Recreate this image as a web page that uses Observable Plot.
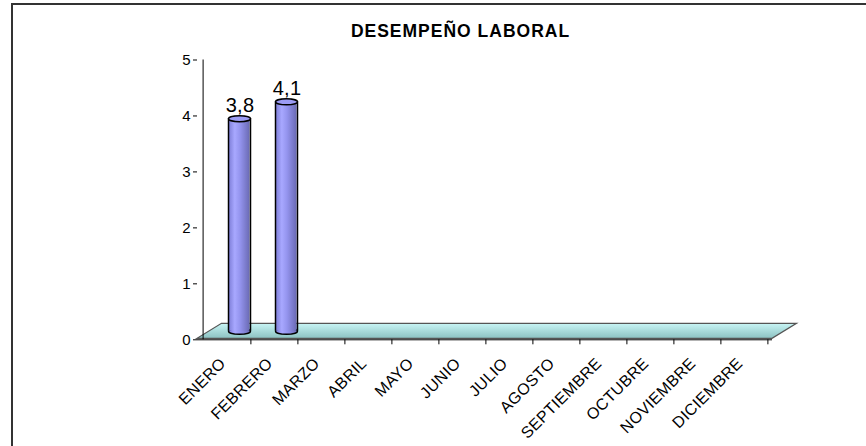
<!DOCTYPE html>
<html><head><meta charset="utf-8">
<script src="https://cdn.jsdelivr.net/npm/d3@7"></script>
<script src="https://cdn.jsdelivr.net/npm/@observablehq/plot@0.6"></script>
<style>
html,body{margin:0;padding:0;background:#fff;}
#wrap{position:relative;width:866px;height:446px;overflow:hidden;font-family:"Liberation Sans",Arial,sans-serif;}
#chart{position:absolute;left:0;top:0;}
#border{position:absolute;left:11px;top:3px;width:900px;height:500px;border-left:2px solid #333;border-top:2px solid #333;}
#title{position:absolute;left:0;width:921px;top:22px;text-align:center;font-weight:bold;font-size:17.5px;line-height:18px;letter-spacing:1px;color:#000;}
</style></head><body>
<div id="wrap"><div id="chart"></div><div id="border"></div><div id="title"></div></div>
<script>
const title = "DESEMPEÑO LABORAL";
const months = ["ENERO","FEBRERO","MARZO","ABRIL","MAYO","JUNIO","JULIO","AGOSTO","SEPTIEMBRE","OCTUBRE","NOVIEMBRE","DICIEMBRE"];
const values = [3.8, 4.1];
const yTicks = [0, 1, 2, 3, 4, 5];

const data = values.map((v, i) => ({month: months[i], value: v}));
document.getElementById("title").textContent = title;

const RX = 11, RY = 3, K = 0.5523;
const ellipse = {draw(ctx) {
  ctx.moveTo(RX, 0);
  ctx.bezierCurveTo(RX, RY*K, RX*K, RY, 0, RY);
  ctx.bezierCurveTo(-RX*K, RY, -RX, RY*K, -RX, 0);
  ctx.bezierCurveTo(-RX, -RY*K, -RX*K, -RY, 0, -RY);
  ctx.bezierCurveTo(RX*K, -RY, RX, -RY*K, RX, 0);
  ctx.closePath();
}};
const CDX = 12.5, CDY = -8.5, HALF = 23.9;

const chart = Plot.plot({
  width: 866, height: 446,
  marginLeft: 197, marginRight: 94, marginTop: 59.5, marginBottom: 106.7,
  style: {fontFamily: '"Liberation Sans", Arial, sans-serif', fontSize: "15px", color: "#000", background: "transparent", overflow: "visible"},
  x: {domain: months, padding: 0, axis: null},
  y: {domain: [0, 5], ticks: yTicks, tickSize: 4, tickPadding: 3, label: null, tickFormat: d => String(d)},
  marks: [
    Plot.ruleY([0], {stroke: "#000", strokeWidth: 1}),
    Plot.ruleX([months[0]], {x: d => d, y1: () => 0, y2: () => 5, dx: -HALF, stroke: "#000"}),
    Plot.ruleX(months, {x: d => d, y1: () => 0, y2: () => 0, dx: HALF, insetBottom: -5, stroke: "#000"}),
    Plot.dot(data, {x: "month", y: () => 0, dx: CDX, dy: CDY, symbol: ellipse, fill: "url(#cylGrad)", stroke: "#000", strokeWidth: 1.5}),
    Plot.barY(data, {x: "month", y: "value", insetLeft: HALF + CDX - RX, insetRight: 2*HALF - (HALF + CDX + RX), dy: CDY, fill: "url(#cylGrad)"}),
    Plot.ruleX(data, {x: "month", y1: () => 0, y2: "value", dx: CDX - RX, dy: CDY, stroke: "#000", strokeWidth: 1.5}),
    Plot.ruleX(data, {x: "month", y1: () => 0, y2: "value", dx: CDX + RX, dy: CDY, stroke: "#000", strokeWidth: 1.5}),
    Plot.dot(data, {x: "month", y: "value", dx: CDX, dy: CDY, symbol: ellipse, fill: "#9c9cf4", stroke: "#000", strokeWidth: 1.5}),
    Plot.text(data, {x: "month", y: "value", text: d => d.value.toFixed(1).replace(".", ","), dx: 13, dy: -22, fontSize: 20}),
    Plot.text(months, {x: d => d, y: () => 0, text: d => d, rotate: -45, textAnchor: "end", dx: -4, dy: 21, fontSize: 16})
  ]
});
document.getElementById("chart").appendChild(chart);

const svg = d3.select(chart);
const tickLabels = yTicks.map(String);
svg.selectAll("text")
  .filter(function() { return tickLabels.includes(this.textContent); })
  .attr("font-size", 15).style("font-size", "15px");
svg.selectAll('g[aria-label="text"]').style("letter-spacing", "0.3px");
const defs = svg.insert("defs", ":first-child");
const cg = defs.append("linearGradient").attr("id", "cylGrad").attr("x1", 0).attr("x2", 1).attr("y1", 0).attr("y2", 0);
[[0, "#7c7cd6"], [0.3, "#a8a8ff"], [0.55, "#9494ee"], [1, "#6a6ab4"]].forEach(([o, c]) => cg.append("stop").attr("offset", o).attr("stop-color", c));
const fg = defs.append("linearGradient").attr("id", "floorGrad").attr("x1", 0).attr("x2", 0).attr("y1", 0).attr("y2", 1);
[[0, "#c8f5f5"], [1, "#8cc2c2"]].forEach(([o, c]) => fg.append("stop").attr("offset", o).attr("stop-color", c));

const sx = chart.scale("x"), sy = chart.scale("y");
const [x0, x1] = sx.range;
const y0 = d3.scaleLinear(sy.domain, sy.range)(0) - 1;
const DX = 24.5, DY = -15;
const floorPts = [[x0, y0], [x1, y0], [x1 + DX, y0 + DY], [x0 + DX, y0 + DY]];
svg.insert("path", "g")
  .attr("d", "M" + floorPts.map(p => p.join(",")).join("L") + "Z")
  .attr("fill", "url(#floorGrad)")
  .attr("stroke", "#555")
  .attr("stroke-width", 1.2);
</script>
</body></html>
